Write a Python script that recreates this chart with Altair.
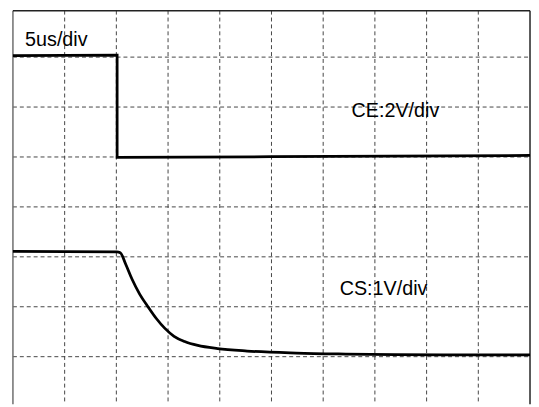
import altair as alt
import pandas as pd

# time in divisions (5us/div), voltage position in divisions from top of screen
ce_x = [0.0, 1.0, 2.015, 2.015, 5.0, 10.0]
ce_y = [0.968, 0.963, 0.960, 3.010, 2.995, 2.970]

cs_x = [0.0, 2.01, 2.076, 2.181, 2.302, 2.448, 2.620, 2.773, 2.939, 3.116, 3.321,
        3.574, 3.956, 4.529, 5.483, 6.437, 7.391, 8.345, 10.0]
cs_y = [4.891, 4.900, 4.917, 5.148, 5.445, 5.741, 6.012, 6.235, 6.433, 6.591, 6.696,
        6.775, 6.838, 6.887, 6.927, 6.947, 6.960, 6.966, 6.966]

v_grid = [1, 2, 3, 4, 5, 6, 7, 8, 9]
h_grid = [1, 2, 3, 4, 5, 6, 7]

labels = ["5us/div", "CE:2V/div", "CS:1V/div"]
label_x = [0.235, 6.55, 6.32]
label_y = [0.786, 2.20, 5.76]

W = 524
H = 399
Y_TOP = 0.069
Y_BOT = 7.955

ce_df = pd.DataFrame({"i": range(len(ce_x)), "t": ce_x, "v": ce_y})
cs_df = pd.DataFrame({"i": range(len(cs_x)), "t": cs_x, "v": cs_y})
vg = pd.DataFrame({"t": v_grid})
hg = pd.DataFrame({"v": h_grid})
lab = pd.DataFrame({"text": labels, "t": label_x, "v": label_y})

xs = alt.Scale(domain=[0, 10], nice=False, zero=False)
ys = alt.Scale(domain=[Y_TOP, Y_BOT], nice=False, zero=False, reverse=True)

X = lambda f: alt.X(f, type="quantitative", scale=xs, axis=None)
Y = lambda f: alt.Y(f, type="quantitative", scale=ys, axis=None)

vgrid = alt.Chart(vg).mark_rule(color="#444444", strokeWidth=1, strokeDash=[4, 3]).encode(
    x=X("t:Q"), y=alt.value(0), y2=alt.value(H)
)
hgrid = alt.Chart(hg).mark_rule(color="#444444", strokeWidth=1, strokeDash=[4, 3]).encode(
    y=Y("v:Q"), x=alt.value(0), x2=alt.value(W)
)

frame_df = pd.DataFrame({"side": ["left", "right", "top"]})
left = alt.Chart(frame_df).transform_filter("datum.side=='left'").mark_rule(
    color="#6e6e6e", strokeWidth=1.5).encode(x=alt.value(0), y=alt.value(0), y2=alt.value(H))
right = alt.Chart(frame_df).transform_filter("datum.side=='right'").mark_rule(
    color="#222222", strokeWidth=1.5).encode(x=alt.value(W), y=alt.value(0), y2=alt.value(H))
top = alt.Chart(frame_df).transform_filter("datum.side=='top'").mark_rule(
    color="#222222", strokeWidth=1.5).encode(y=alt.value(0), x=alt.value(0), x2=alt.value(W))

ce_line = alt.Chart(ce_df).mark_line(color="black", strokeWidth=2.8, strokeJoin="miter").encode(
    x=X("t:Q"), y=Y("v:Q"), order="i:Q"
)
cs_line = alt.Chart(cs_df).mark_line(color="black", strokeWidth=2.8, strokeJoin="round",
                                     interpolate="monotone").encode(
    x=X("t:Q"), y=Y("v:Q"), order="i:Q"
)

texts = alt.Chart(lab).mark_text(align="left", baseline="alphabetic", fontSize=20,
                                 font="Liberation Sans", color="black").encode(
    x=X("t:Q"), y=Y("v:Q"), text="text:N"
)

chart = alt.layer(vgrid, hgrid, left, right, top, ce_line, cs_line, texts).properties(
    width=W, height=H,
    autosize=alt.AutoSizeParams(type="none"),
    padding={"left": 5, "top": 0, "right": 1, "bottom": 0},
    background="white",
).configure_view(stroke=None)

chart.save("out.html", embed_options={"renderer": "svg", "actions": False})
